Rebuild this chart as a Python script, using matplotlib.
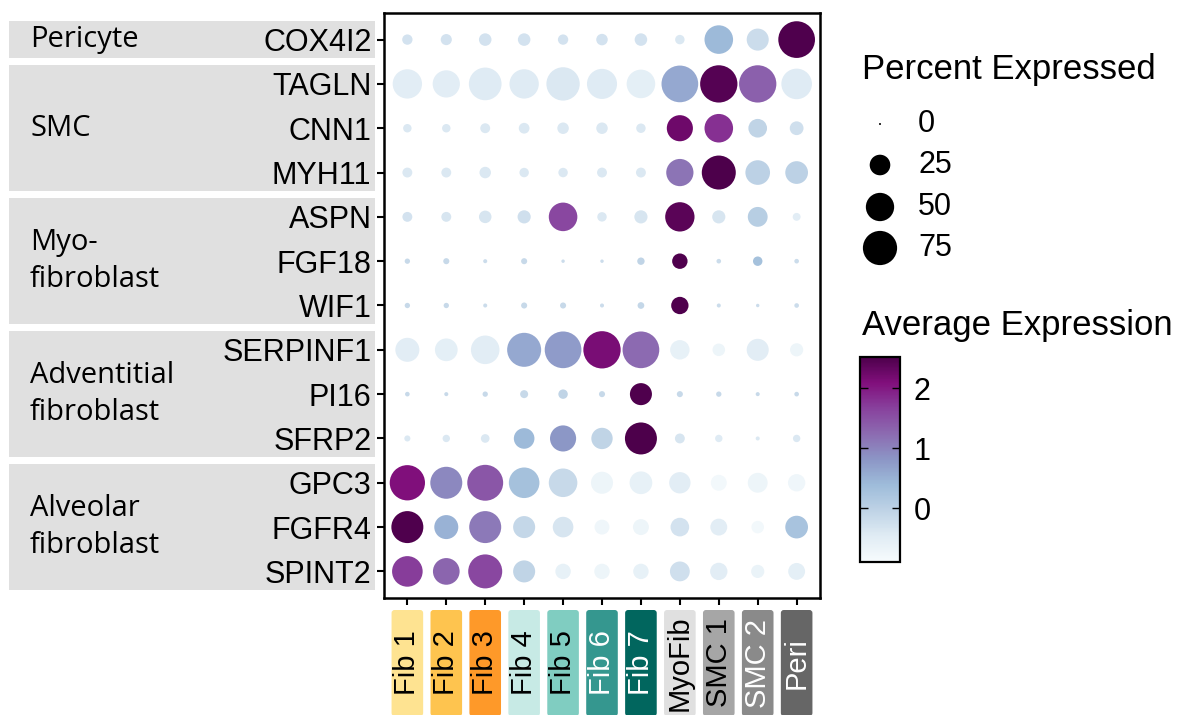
import numpy as np
import matplotlib
matplotlib.use("Agg")
import matplotlib.pyplot as plt
from matplotlib.patches import Rectangle, FancyBboxPatch
from matplotlib.transforms import blended_transform_factory
from matplotlib.cm import ScalarMappable
from matplotlib.colors import Normalize

plt.rcParams['font.family'] = ['Liberation Sans', 'DejaVu Sans']

# =============================================================================
# Data
# =============================================================================

genes = ['COX4I2', 'TAGLN', 'CNN1', 'MYH11', 'ASPN', 'FGF18', 'WIF1',
         'SERPINF1', 'PI16', 'SFRP2', 'GPC3', 'FGFR4', 'SPINT2']

clusters = ['Fib 1', 'Fib 2', 'Fib 3', 'Fib 4', 'Fib 5', 'Fib 6', 'Fib 7',
            'MyoFib', 'SMC 1', 'SMC 2', 'Peri']

cluster_colors = ['#fee391', '#fec44f', '#fe9929', '#c7eae5', '#80cdc1',
                  '#35978f', '#01665e', '#e0e0e0', '#a6a6a6', '#8a8a8a', '#666666']
cluster_text_colors = ['black', 'black', 'black', 'black', 'black',
                       'white', 'white', 'black', 'black', 'white', 'white']

groups = ['Pericyte', 'SMC', 'Myo-\nfibroblast', 'Adventitial\nfibroblast',
          'Alveolar\nfibroblast']
group_first = [0, 1, 4, 7, 10]
group_last = [0, 3, 6, 9, 12]

# percent of cells expressing (rows follow genes, columns follow clusters)
pct_cox4i2 = [5, 6, 8, 8, 5, 6.5, 8, 4, 51, 29, 87]
pct_tagln = [54, 46, 68, 54, 71, 57, 51, 87, 90, 90, 59]
pct_cnn1 = [3, 3, 4.5, 5.5, 6.5, 6.5, 4, 42, 51, 20, 10]
pct_myh11 = [4.5, 4.5, 6.5, 4, 4, 4.5, 4.5, 46, 74, 37, 31]
pct_aspn = [4.5, 4.5, 8, 9, 51, 4, 9, 54, 9, 23, 2.5]
pct_fgf18 = [0.8, 1.2, 0.3, 1.2, 0.15, 0.15, 2.1, 13, 0.5, 4, 0.5]
pct_wif1 = [0.8, 0.8, 0.3, 1.2, 1.2, 0.3, 1.6, 17, 0.3, 0.15, 0.5]
pct_serpinf1 = [35, 31, 51, 74, 87, 90, 87, 22, 8, 29, 9]
pct_pi16 = [0.5, 0.3, 0.8, 2.6, 4, 1.2, 29, 1.2, 0.8, 0.3, 0.5]
pct_sfrp2 = [1.2, 2.1, 3.2, 25, 42, 27, 65, 4.5, 2.1, 0.3, 2.1]
pct_gpc3 = [80, 65, 83, 59, 51, 29, 31, 27, 14, 23, 17]
pct_fgfr4 = [65, 35, 65, 29, 25, 12, 14, 20, 16, 8, 31]
pct_spint2 = [59, 44, 74, 29, 13, 13, 13, 23, 17, 9, 16]

# scaled average expression
avg_cox4i2 = [-0.3, -0.3, -0.3, -0.3, -0.3, -0.3, -0.3, -0.4, 0.4, -0.2, 2.5]
avg_tagln = [-0.5, -0.5, -0.45, -0.45, -0.4, -0.45, -0.55, 0.6, 2.45, 1.35, -0.45]
avg_cnn1 = [-0.4, -0.4, -0.4, -0.4, -0.4, -0.4, -0.4, 2.25, 1.8, -0.05, -0.25]
avg_myh11 = [-0.4, -0.4, -0.4, -0.4, -0.4, -0.4, -0.4, 1.15, 2.52, 0.0, 0.0]
avg_aspn = [-0.3, -0.35, -0.35, -0.25, 1.6, -0.4, -0.35, 2.4, -0.35, 0.05, -0.5]
avg_fgf18 = [-0.15, -0.15, -0.2, -0.15, -0.2, -0.2, -0.05, 2.5, -0.2, 0.3, -0.2]
avg_wif1 = [-0.15, -0.15, -0.2, -0.15, -0.15, -0.2, -0.1, 2.5, -0.2, -0.2, -0.2]
avg_serpinf1 = [-0.5, -0.55, -0.5, 0.6, 0.75, 2.15, 1.25, -0.6, -0.7, -0.5, -0.7]
avg_pi16 = [-0.15, -0.15, -0.15, -0.15, -0.05, -0.15, 2.5, -0.15, -0.15, -0.15, -0.15]
avg_sfrp2 = [-0.4, -0.4, -0.4, 0.4, 0.8, -0.05, 2.52, -0.35, -0.45, -0.4, -0.4]
avg_gpc3 = [2.1, 0.95, 1.45, 0.3, -0.15, -0.7, -0.6, -0.5, -0.8, -0.7, -0.75]
avg_fgfr4 = [2.5, 0.5, 1.1, -0.1, -0.35, -0.75, -0.7, -0.3, -0.5, -0.8, 0.25]
avg_spint2 = [1.7, 1.3, 1.6, -0.05, -0.6, -0.7, -0.6, -0.25, -0.5, -0.65, -0.55]

legend_pct = [0, 25, 50, 75]
cbar_ticks = [0, 1, 2]
AVG_MIN, AVG_MAX = -0.9, 2.52

pct = np.array([pct_cox4i2, pct_tagln, pct_cnn1, pct_myh11, pct_aspn, pct_fgf18,
                pct_wif1, pct_serpinf1, pct_pi16, pct_sfrp2, pct_gpc3, pct_fgfr4,
                pct_spint2])
avg = np.array([avg_cox4i2, avg_tagln, avg_cnn1, avg_myh11, avg_aspn, avg_fgf18,
                avg_wif1, avg_serpinf1, avg_pi16, avg_sfrp2, avg_gpc3, avg_fgfr4,
                avg_spint2])

# =============================================================================
# Layout helpers (pixel based, figure is 1194 x 715)
# =============================================================================

W, H = 1194, 715
DPI = 100
CMAP = 'BuPu'
GREY_BOX = '#e0e0e0'


def fx(px):
    return px / W


def fy(py):
    return 1 - py / H


def marker_area(p):
    # radius grows with sqrt(percent), like ggplot's scale_size
    radius_px = 1 + 1.86 * np.sqrt(np.asarray(p, dtype=float))
    return (2 * radius_px * 72 / DPI) ** 2


fig = plt.figure(figsize=(W / DPI, H / DPI), dpi=DPI)

# overlay in pixel coordinates for legends and strips
over = fig.add_axes([0, 0, 1, 1])
over.set_xlim(0, W)
over.set_ylim(H, 0)
over.axis('off')

ax = fig.add_axes([fx(384), fy(598), (820 - 384) / W, (598 - 13) / H])

n_genes = len(genes)
xs = np.arange(1, len(clusters) + 1)
ys = n_genes - np.arange(n_genes)
X, Y = np.meshgrid(xs, ys)

norm = Normalize(vmin=AVG_MIN, vmax=AVG_MAX)
ax.scatter(X.ravel(), Y.ravel(), s=marker_area(pct.ravel()), c=avg.ravel(),
           cmap=CMAP, norm=norm, linewidths=0, zorder=3)

ax.set_xlim(0.4, len(clusters) + 0.6)
ax.set_ylim(0.4, n_genes + 0.6)
ax.set_xticks(xs)
ax.set_xticklabels([])
ax.set_yticks(ys)
ax.set_yticklabels(genes, fontsize=22)
ax.tick_params(length=5, width=1.5, color='black', pad=4)
for sp in ax.spines.values():
    sp.set_linewidth(1.8)

# grey group boxes on the left
trans_y = blended_transform_factory(fig.transFigure, ax.transData)
for name, first, last in zip(groups, group_first, group_last):
    top = ys[first] + 0.42
    bot = ys[last] - 0.42
    ax.add_patch(Rectangle((fx(9), bot), fx(375) - fx(9), top - bot,
                           transform=trans_y, facecolor=GREY_BOX,
                           edgecolor='none', clip_on=False, zorder=0.5))
    ax.text(fx(30), (top + bot) / 2, name, transform=trans_y, ha='left',
            va='center', fontsize=21, family=['Open Sans', 'DejaVu Sans'],
            linespacing=1.35)

# coloured cluster strips below the plot
for x, lab, col, tcol in zip(xs, clusters, cluster_colors, cluster_text_colors):
    px = ax.transData.transform((x, 1))[0]
    over.add_patch(FancyBboxPatch((px - 15.8, 610), 31.6, 106,
                                  boxstyle='round,pad=0,rounding_size=3',
                                  facecolor=col, edgecolor='none'))
    over.text(px, 663, lab, rotation=90, ha='center', va='center',
              fontsize=21, color=tcol)

# size legend
over.text(862, 70, 'Percent Expressed', fontsize=25, ha='left', va='center')
leg_y = [124, 165, 207, 248]
over.scatter([880] * len(legend_pct), leg_y, s=marker_area(legend_pct),
             color='black', linewidths=0)
for yy, p in zip(leg_y, legend_pct):
    over.text(918, yy, str(p), fontsize=22, ha='left', va='center')

# colour legend
over.text(862, 325, 'Average Expression', fontsize=25, ha='left', va='center')
cax = fig.add_axes([fx(860), fy(562), 40 / W, 205 / H])
cb = fig.colorbar(ScalarMappable(norm=norm, cmap=CMAP), cax=cax)
cb.set_ticks(cbar_ticks)
cb.outline.set_linewidth(1.6)
cax.tick_params(direction='in', length=6, width=1, color='black',
                left=True, right=True, labelsize=22, pad=10)

fig.savefig('out.png', dpi=DPI, facecolor='white')
